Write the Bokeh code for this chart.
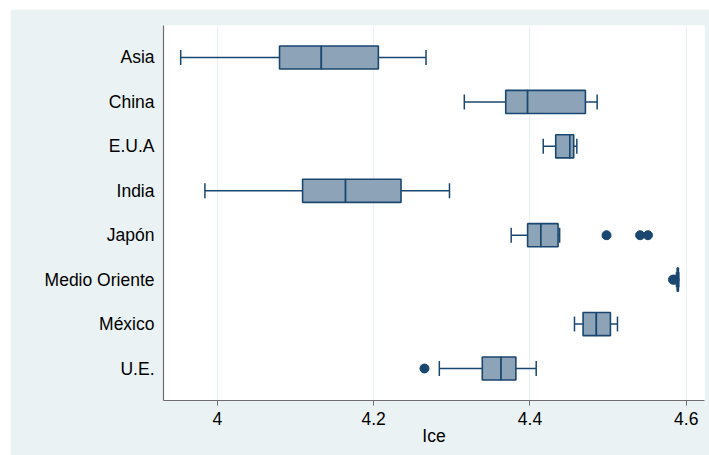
import math
from bokeh.plotting import figure
from bokeh.models import FactorRange, FixedTicker, ColumnDataSource
from bokeh.embed import file_html
from bokeh.resources import INLINE

categories = ["Asia", "China", "E.U.A", "India", "Japón", "Medio Oriente", "México", "U.E."]
lower_whisker = [3.953, 4.316, 4.417, 3.984, 4.376, 4.5875, 4.457, 4.284]
q1 = [4.0795, 4.369, 4.433, 4.109, 4.397, 4.5885, 4.468, 4.339]
median = [4.133, 4.397, 4.451, 4.164, 4.414, 4.589, 4.485, 4.363]
q3 = [4.206, 4.471, 4.456, 4.235, 4.436, 4.590, 4.503, 4.382]
upper_whisker = [4.267, 4.486, 4.460, 4.297, 4.438, 4.5905, 4.512, 4.408]
outlier_cat = ["Japón", "Japón", "Japón", "Medio Oriente", "Medio Oriente", "U.E."]
outlier_val = [4.498, 4.541, 4.551, 4.583, 4.585, 4.265]
x_ticks = [4.0, 4.2, 4.4, 4.6]
x_title = "Ice"

NAVY = "#1A476F"
FILL = "#8DA3B8"
BG = "#EAF2F3"
FONT = "Liberation Sans"

src = ColumnDataSource(dict(cat=categories, lo=lower_whisker, q1=q1, med=median,
                            q3=q3, hi=upper_whisker))
osrc = ColumnDataSource(dict(cat=outlier_cat, val=outlier_val))

yr = FactorRange(factors=list(reversed(categories)), range_padding=0.22,
                 range_padding_units="absolute")

p = figure(width=699, height=446, y_range=yr, x_range=(3.931, 4.6234),
           output_backend="svg", toolbar_location=None,
           min_border_left=153, min_border_right=5, min_border_top=16,
           min_border_bottom=55)
p.margin = (9, 0, 0, 10)
p.background_fill_color = "white"
p.border_fill_color = BG
p.outline_line_color = None

# whiskers
p.segment(x0="lo", x1="q1", y0="cat", y1="cat", source=src, line_color=NAVY, line_width=1.5)
p.segment(x0="q3", x1="hi", y0="cat", y1="cat", source=src, line_color=NAVY, line_width=1.5)
# caps
p.scatter(x="lo", y="cat", source=src, marker="dash", size=15, angle=math.pi / 2,
          line_color=NAVY, line_width=1.5)
p.scatter(x="hi", y="cat", source=src, marker="dash", size=15, angle=math.pi / 2,
          line_color=NAVY, line_width=1.5)
# boxes (split at median)
p.hbar(y="cat", left="q1", right="med", height=0.52, source=src, fill_color=FILL,
       line_color=NAVY, line_width=1.6)
p.hbar(y="cat", left="med", right="q3", height=0.52, source=src, fill_color=FILL,
       line_color=NAVY, line_width=1.6)
# outliers
p.scatter(x="val", y="cat", source=osrc, marker="circle", size=9,
          fill_color=NAVY, line_color=NAVY)

# grids
p.ygrid.grid_line_color = None
p.xgrid.grid_line_color = BG
p.xgrid.grid_line_width = 1.2
p.xaxis.ticker = FixedTicker(ticks=x_ticks)
p.xaxis.major_label_overrides = {4.0: "4", 4.2: "4.2", 4.4: "4.4", 4.6: "4.6"}

for ax in (p.xaxis[0], p.yaxis[0]):
    ax.axis_line_color = "#6E6E6E"
    ax.axis_line_width = 1.2
    ax.major_label_text_font = FONT
    ax.major_label_text_font_size = "17.5px"
    ax.major_label_text_color = "black"
    ax.minor_tick_line_color = None

p.yaxis.major_tick_line_color = None
p.yaxis.major_label_standoff = 3

p.xaxis.major_tick_line_color = "#6E6E6E"
p.xaxis.major_tick_out = 5
p.xaxis.major_tick_in = 0
p.xaxis.major_label_standoff = 6
p.xaxis.axis_label = x_title
p.xaxis.axis_label_text_font = FONT
p.xaxis.axis_label_text_font_size = "17.5px"
p.xaxis.axis_label_text_font_style = "normal"
p.xaxis.axis_label_text_color = "black"
p.xaxis.axis_label_standoff = -2

open("out.html", "w").write(file_html(p, INLINE))
